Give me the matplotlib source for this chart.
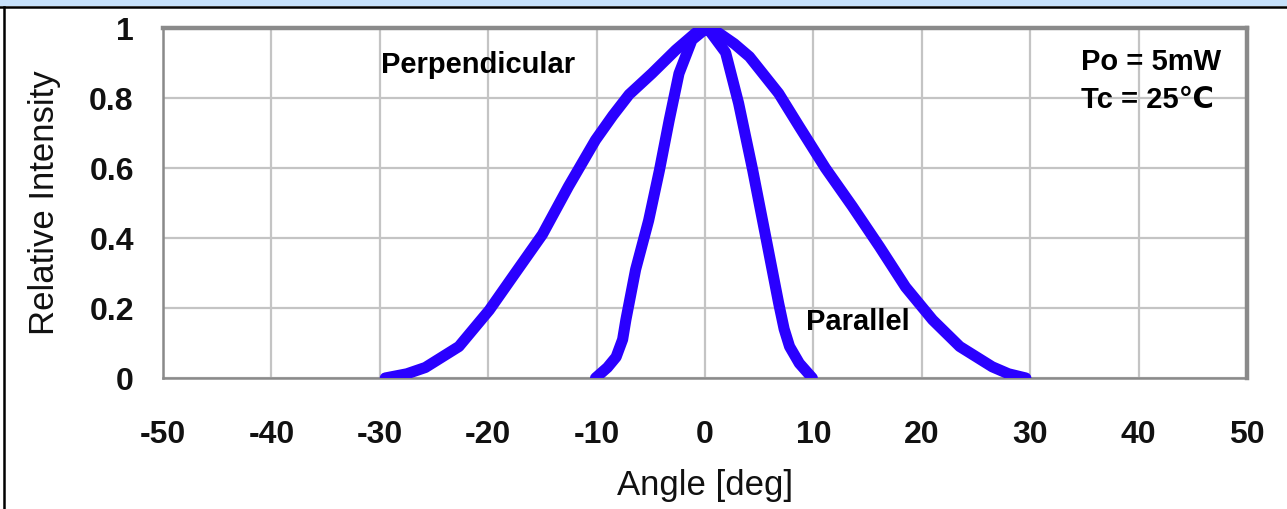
import matplotlib.pyplot as plt
from matplotlib.patches import Rectangle
from matplotlib.lines import Line2D

# Perpendicular (wide) beam profile
perp_angle = [-29.5, -27.5, -25.8, -22.7, -19.9, -17.5, -15.0, -12.6, -10.1, -8.5, -7.0, -4.9, -2.7, -0.9, 0.0,
              1.3, 2.7, 4.1, 6.8, 8.7, 11.1, 13.6, 16.1, 18.5, 21.0, 23.5, 26.5, 28.0, 29.6]
perp_int = [0.0, 0.012, 0.03, 0.09, 0.194, 0.30, 0.41, 0.547, 0.68, 0.75, 0.81, 0.87, 0.937, 0.985, 1.0,
            0.985, 0.955, 0.918, 0.813, 0.718, 0.60, 0.49, 0.375, 0.26, 0.166, 0.09, 0.032, 0.012, 0.0]

# Parallel (narrow) beam profile
par_angle = [-10.1, -9.0, -8.2, -7.6, -7.3, -6.4, -5.2, -4.2, -3.3, -2.4, -1.2, -0.25, 0.0,
             0.37, 1.9, 3.1, 4.4, 5.6, 6.8, 7.3, 7.8, 8.7, 9.9]
par_int = [0.0, 0.03, 0.06, 0.11, 0.166, 0.31, 0.45, 0.594, 0.737, 0.87, 0.966, 0.99, 1.0,
           0.994, 0.93, 0.785, 0.594, 0.404, 0.213, 0.14, 0.09, 0.042, 0.0]

x_ticks = [-50, -40, -30, -20, -10, 0, 10, 20, 30, 40, 50]
y_ticks = [0, 0.2, 0.4, 0.6, 0.8, 1]
y_ticklabels = ['0', '0.2', '0.4', '0.6', '0.8', '1']

plt.rcParams['font.family'] = ['Liberation Sans', 'DejaVu Sans']
plt.rcParams['axes.unicode_minus'] = False

fig = plt.figure(figsize=(12.87, 5.09), dpi=100)
W, H = 1287, 509
ax = fig.add_axes([163 / W, 1 - 378 / H, (1247 - 163) / W, (378 - 28) / H])

# header band and frame lines like the source document
fig.patches.append(Rectangle((0, 1 - 6 / H), 1, 6 / H, transform=fig.transFigure,
                             facecolor='#c6e0fa', edgecolor='none', zorder=0))
fig.lines.append(Line2D([0, 1], [1 - 6.5 / H, 1 - 6.5 / H], transform=fig.transFigure,
                        color='black', lw=1.8))
fig.lines.append(Line2D([3.5 / W, 3.5 / W], [0, 1 - 6.5 / H], transform=fig.transFigure,
                        color='black', lw=1.8))

blue = '#2a00ff'
ax.plot(perp_angle, perp_int, color=blue, lw=8, solid_capstyle='round', solid_joinstyle='round', zorder=3)
ax.plot(par_angle, par_int, color=blue, lw=8, solid_capstyle='round', solid_joinstyle='round', zorder=3)

ax.set_xlim(-50, 50)
ax.set_ylim(0, 1)
ax.set_xticks(x_ticks)
ax.set_yticks(y_ticks)
ax.set_yticklabels(y_ticklabels)
ax.tick_params(axis='both', length=0, labelsize=23)
ax.tick_params(axis='x', pad=30)
ax.tick_params(axis='y', pad=21)
for lbl in ax.get_xticklabels() + ax.get_yticklabels():
    lbl.set_fontweight('bold')
    lbl.set_color('#111111')

ax.grid(True, color='#c4c4c4', lw=1.6)
ax.set_axisbelow(True)
for side in ['left', 'bottom']:
    ax.spines[side].set_color('#8a8a8a')
    ax.spines[side].set_linewidth(1.8)
for side in ['top', 'right']:
    ax.spines[side].set_color('#8a8a8a')
    ax.spines[side].set_linewidth(3.2)

ax.set_xlabel('Angle [deg]', fontsize=25, color='#111111', labelpad=14)
ax.set_ylabel('Relative Intensity', fontsize=25, color='#111111', labelpad=20)

ax.text(-29.9, 0.894, 'Perpendicular', fontsize=21, fontweight='bold', va='center', ha='left')
ax.text(9.3, 0.16, 'Parallel', fontsize=21, fontweight='bold', va='center', ha='left')
ax.text(34.7, 0.903, 'Po = 5mW', fontsize=21, fontweight='bold', va='center', ha='left')
ax.text(34.7, 0.794, 'Tc = 25\u2103', fontsize=21, fontweight='bold', va='center', ha='left',
        family=['Liberation Sans', 'DejaVu Sans'])

fig.savefig('out.png', dpi=100)
